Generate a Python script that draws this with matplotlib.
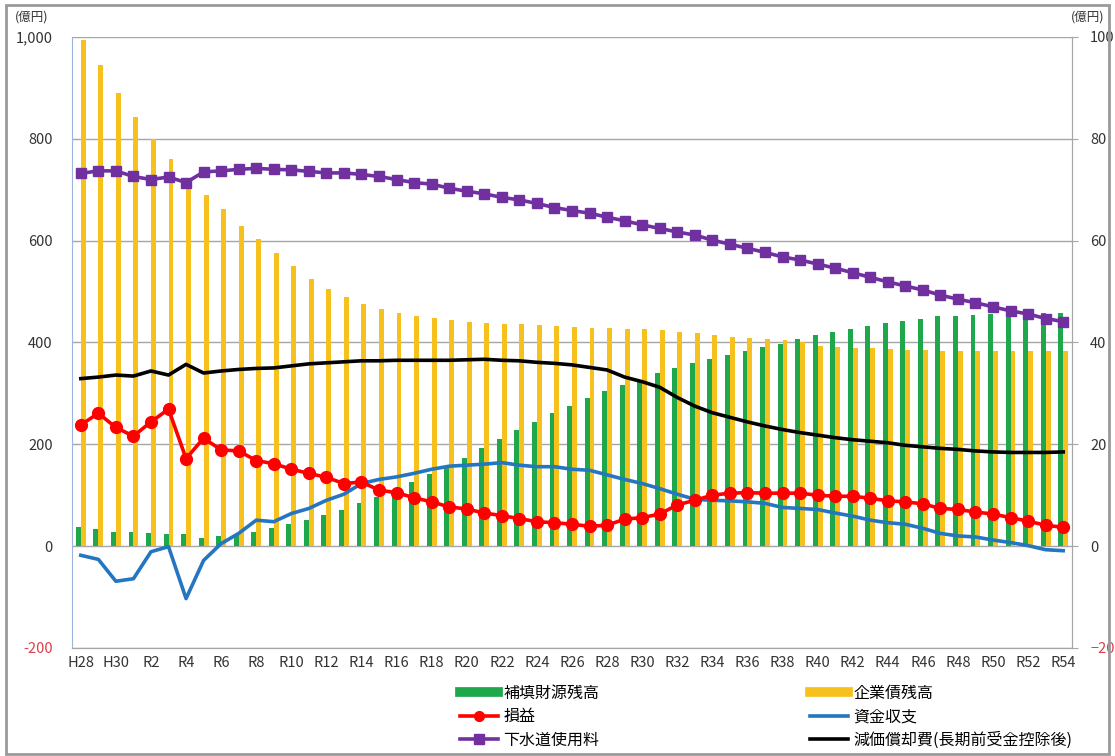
import matplotlib
matplotlib.use("Agg")
import matplotlib.pyplot as plt
from matplotlib.lines import Line2D
from matplotlib.patches import Rectangle
from matplotlib.ticker import FuncFormatter
import numpy as np

plt.rcParams['font.family'] = ['Noto Sans CJK JP', 'DejaVu Sans']

# 年度 (H28 ～ R54)
years = ['H28', 'H29', 'H30'] + [f'R{n}' for n in range(1, 55)]

# 補填財源残高 (億円, 左軸)
hoten = [37, 33, 28, 28, 25, 23, 23, 16, 20, 22,
         28, 35, 43, 51, 61, 71, 84, 97, 110, 125,
         141, 156, 174, 193, 210, 229, 244, 261, 275, 290,
         305, 316, 325, 340, 350, 359, 367, 375, 383, 392,
         397, 406, 415, 420, 426, 432, 439, 443, 447, 452,
         452, 454, 456, 456, 456, 457, 458]

# 企業債残高 (億円, 左軸)
kigyosai = [995, 945, 890, 842, 800, 760, 718, 690, 662, 629,
            603, 575, 550, 524, 505, 490, 476, 466, 458, 452,
            448, 445, 441, 439, 436, 436, 434, 433, 431, 428,
            428, 427, 427, 424, 421, 418, 414, 410, 409, 406,
            404, 400, 393, 391, 390, 389, 388, 386, 385, 384,
            384, 383, 383, 383, 383, 383, 383]

# 損益 (億円, 右軸)
soneki = [23.8, 26.1, 23.3, 21.6, 24.4, 26.9, 17.2, 21.2, 18.9, 18.7,
          16.8, 16.2, 15.1, 14.3, 13.5, 12.3, 12.6, 11.0, 10.5, 9.5,
          8.7, 7.7, 7.3, 6.5, 6.0, 5.4, 4.8, 4.6, 4.3, 3.9,
          4.1, 5.3, 5.6, 6.3, 8.1, 9.0, 10.0, 10.4, 10.5, 10.4,
          10.4, 10.4, 10.0, 9.8, 9.8, 9.4, 8.9, 8.7, 8.3, 7.4,
          7.2, 6.7, 6.3, 5.6, 4.9, 4.1, 3.7]

# 資金収支 (億円, 右軸)
shikin = [-1.8, -2.6, -6.9, -6.4, -1.1, -0.1, -10.3, -2.8, 0.5, 2.5,
          5.1, 4.8, 6.4, 7.4, 9.0, 10.2, 12.3, 13.1, 13.6, 14.3,
          15.1, 15.7, 15.9, 16.1, 16.4, 15.9, 15.6, 15.6, 15.1, 14.9,
          14.0, 13.1, 12.3, 11.3, 10.2, 9.2, 9.0, 8.9, 8.7, 8.4,
          7.6, 7.4, 7.2, 6.5, 5.9, 5.1, 4.6, 4.3, 3.5, 2.5,
          2.0, 1.8, 1.2, 0.7, 0.1, -0.7, -0.9]

# 下水道使用料 (億円, 右軸)
shiyoryo = [73.2, 73.7, 73.7, 72.6, 72.0, 72.5, 71.4, 73.5, 73.7, 74.0,
            74.2, 74.0, 73.9, 73.6, 73.3, 73.3, 73.0, 72.6, 72.0, 71.4,
            71.1, 70.3, 69.7, 69.2, 68.5, 68.0, 67.3, 66.5, 65.9, 65.4,
            64.6, 63.9, 63.1, 62.4, 61.7, 61.1, 60.1, 59.3, 58.5, 57.7,
            56.8, 56.2, 55.4, 54.6, 53.7, 52.8, 51.9, 51.1, 50.3, 49.3,
            48.5, 47.8, 47.0, 46.2, 45.6, 44.7, 44.1]

# 減価償却費(長期前受金控除後) (億円, 右軸)
genka = [32.9, 33.2, 33.6, 33.4, 34.4, 33.6, 35.7, 34.0, 34.4, 34.7,
         34.9, 35.0, 35.4, 35.8, 36.0, 36.2, 36.4, 36.4, 36.5, 36.5,
         36.5, 36.5, 36.6, 36.7, 36.5, 36.4, 36.1, 35.9, 35.6, 35.1,
         34.6, 33.2, 32.3, 31.2, 29.2, 27.5, 26.2, 25.3, 24.4, 23.6,
         22.9, 22.3, 21.8, 21.3, 20.9, 20.6, 20.3, 19.8, 19.5, 19.2,
         19.0, 18.7, 18.5, 18.4, 18.4, 18.4, 18.5]

c_green = '#1ea84b'
c_orange = '#f7c11d'
c_red = '#ff0000'
c_blue = '#2576c0'
c_purple = '#7030a0'
c_tick = '#333333'
c_neg = '#d9404a'

fig = plt.figure(figsize=(11.15, 7.56), dpi=100)
ax = fig.add_axes([0.0646, 0.1429, 0.8968, 0.8082])
ax2 = ax.twinx()

x = np.arange(len(years))
w = 0.28
ax.bar(x - 0.14, hoten, width=w, color=c_green, zorder=2)
ax.bar(x + 0.14, kigyosai, width=w, color=c_orange, zorder=2)

ax2.plot(x, genka, color='black', lw=2.6, zorder=3)
ax2.plot(x, shikin, color=c_blue, lw=2.6, zorder=3)
ax2.plot(x, soneki, color=c_red, lw=2.6, marker='o', ms=8.5, zorder=4)
ax2.plot(x, shiyoryo, color=c_purple, lw=2.6, marker='s', ms=7.5, zorder=5)

ax.set_xlim(-0.5, len(years) - 0.5)
ax.set_ylim(-200, 1000)
ax2.set_ylim(-20, 100)
ax.set_yticks(range(-200, 1001, 200))
ax2.set_yticks(range(-20, 101, 20))
ax.yaxis.set_major_formatter(FuncFormatter(lambda v, p: f'{int(v):,}'))

ax.set_xticks(x[::2])
ax.set_xticklabels(years[::2])

ax.grid(axis='y', color='#a6a6a6', lw=1.0, zorder=0)
ax.set_axisbelow(True)

for a in (ax, ax2):
    a.spines['top'].set_visible(False)
    a.spines['bottom'].set_color('#a6a6a6')
    a.spines['right'].set_color('#a6a6a6')
    a.spines['left'].set_color('#9fb4da')
ax2.spines['left'].set_visible(False)

ax.tick_params(axis='x', length=0, pad=6, labelsize=10.5, labelcolor=c_tick)
ax.tick_params(axis='y', length=0, pad=14, labelsize=10.5, labelcolor=c_tick)
ax2.tick_params(axis='y', length=4, color='#a6a6a6', pad=9, labelsize=10.5,
                labelcolor=c_tick)
ax.get_yticklabels()[0].set_color(c_neg)
ax2.get_yticklabels()[0].set_color(c_neg)

fig.text(15 / 1115, 1 - 17 / 756, '(億円)', fontsize=9, color=c_tick, va='center')
fig.text(1071 / 1115, 1 - 17 / 756, '(億円)', fontsize=9, color=c_tick, va='center')

handles = [
    Line2D([], [], color=c_green, lw=7),
    Line2D([], [], color=c_red, lw=2.6, marker='o', ms=7),
    Line2D([], [], color=c_purple, lw=2.6, marker='s', ms=6.5),
    Line2D([], [], color=c_orange, lw=7),
    Line2D([], [], color=c_blue, lw=2.6),
    Line2D([], [], color='black', lw=2.6),
]
labels = ['補填財源残高', '損益', '下水道使用料',
          '企業債残高', '資金収支', '減価償却費(長期前受金控除後)']
fig.legend(handles, labels, ncol=2, frameon=False, loc='upper left',
           bbox_to_anchor=(452 / 1115, 1 - 677 / 756), fontsize=11.5,
           handlelength=2.4, handletextpad=0.3, columnspacing=13.2,
           labelspacing=0.4, numpoints=1, borderpad=0)

fig.patches.append(Rectangle((0.005, 0.003), 0.99, 0.991, transform=fig.transFigure,
                             fill=False, edgecolor='#9a9a9a', lw=2))

fig.savefig('out.png', dpi=100)
